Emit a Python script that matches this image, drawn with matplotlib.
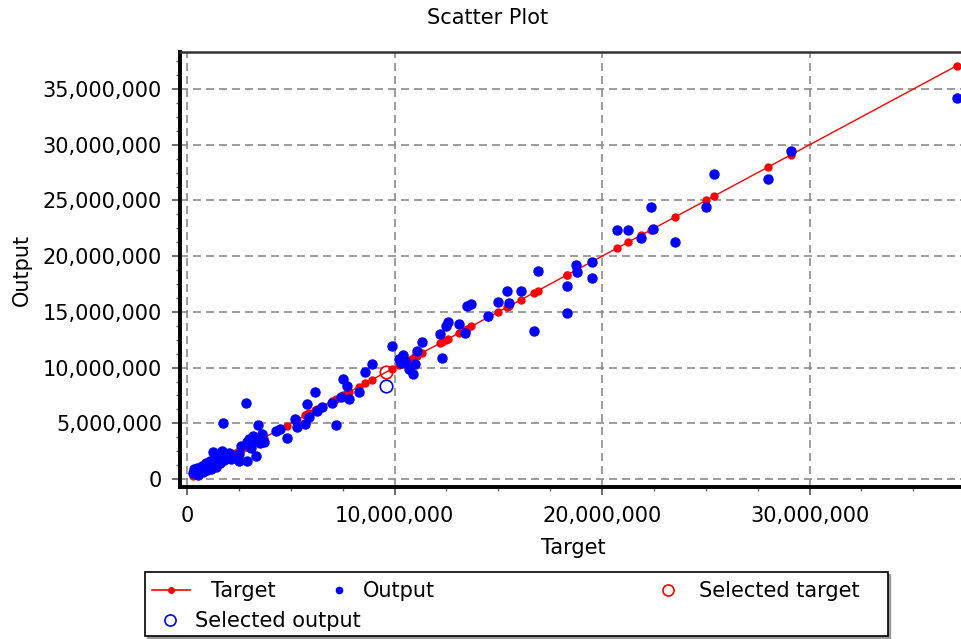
import numpy as np
import matplotlib
matplotlib.use('Agg')
import matplotlib.pyplot as plt
from matplotlib.lines import Line2D
from matplotlib.patches import Rectangle
from matplotlib.ticker import MultipleLocator, FuncFormatter

# values in millions
target = [0.3, 0.35, 0.4, 0.5, 0.55, 0.6, 0.7, 0.75, 0.8, 0.9, 0.95, 1.0, 1.1, 1.15,
          1.2, 1.25, 1.3, 1.4, 1.5, 1.6, 1.7, 1.73, 1.8, 2.0, 2.1, 2.3, 2.5, 2.5,
          2.6, 2.84, 2.9, 2.9, 3.0, 3.1, 3.2, 3.3, 3.3, 3.4, 3.5, 3.6, 3.7, 4.3,
          4.5, 4.8, 5.2, 5.3, 5.7, 5.8, 5.9, 6.15, 6.25, 6.5, 7.0, 7.2, 7.4, 7.5,
          7.7, 7.8, 8.3, 8.6, 8.9, 9.9, 10.2, 10.3, 10.4, 10.5, 10.7, 10.9, 11.0,
          11.06, 11.3, 12.2, 12.3, 12.5, 12.6, 13.1, 13.4, 13.5, 13.7, 14.5, 15.0,
          15.4, 15.5, 16.1, 16.7, 16.9, 18.3, 18.3, 18.75, 18.8, 19.5, 19.5, 20.7,
          21.25, 21.9, 22.35, 22.45, 23.5, 25.0, 25.4, 28.0, 29.1, 37.1]
output = [0.5, 0.9, 0.7, 1.0, 0.4, 0.8, 1.2, 0.6, 1.0, 1.4, 0.8, 1.1, 1.6, 0.9,
          1.3, 2.4, 1.5, 1.1, 1.8, 1.4, 2.5, 5.0, 1.7, 2.3, 1.8, 2.1, 2.2, 1.6,
          3.0, 6.8, 3.3, 1.6, 3.6, 2.8, 3.9, 2.1, 3.4, 4.85, 3.2, 4.0, 3.3, 4.3,
          4.5, 3.7, 5.4, 4.7, 4.9, 6.7, 5.6, 7.8, 6.1, 6.5, 6.8, 4.85, 7.4, 9.0,
          8.35, 7.2, 7.8, 9.6, 10.3, 11.9, 10.8, 10.4, 11.1, 10.6, 9.9, 9.4, 10.3,
          11.5, 12.3, 13.0, 10.9, 13.7, 14.1, 13.9, 13.1, 15.5, 15.7, 14.6, 15.9,
          16.9, 15.8, 16.9, 13.3, 18.7, 17.3, 14.9, 19.2, 18.6, 19.5, 18.0, 22.35,
          22.35, 21.6, 24.4, 22.4, 21.3, 24.4, 27.4, 26.9, 29.4, 34.2]
sel_target = 9.6
sel_output = 8.35

M = 1e6
target = np.array(target) * M
output = np.array(output) * M

plt.rcParams['font.family'] = 'DejaVu Sans'
plt.rcParams['font.size'] = 15

W, H = 961, 639
fig = plt.figure(figsize=(W / 100, H / 100), dpi=100)
ax = fig.add_axes([180 / W, (H - 487) / H, (1000 - 180) / W, (487 - 52) / H])

order = np.argsort(target)
ax.plot(target[order], target[order], color='red', lw=1.0, marker='o', ms=5,
        mec='red', mfc='red', zorder=3)
ax.plot(target, output, ls='none', marker='o', ms=6.5, color='blue', mec='blue', zorder=4)
ax.plot([sel_target * M], [sel_target * M], ls='none', marker='o', ms=9, mfc='none',
        mec='red', mew=1.2, zorder=5)
ax.plot([sel_target * M], [sel_output * M], ls='none', marker='o', ms=9, mfc='none',
        mec='blue', mew=1.2, zorder=5)

ax.set_xlim(-0.34 * M, 39.18 * M)
ax.set_ylim(-0.72 * M, 38.33 * M)

ax.xaxis.set_major_locator(MultipleLocator(10 * M))
ax.xaxis.set_minor_locator(MultipleLocator(2.5 * M))
ax.yaxis.set_major_locator(MultipleLocator(5 * M))
ax.yaxis.set_minor_locator(MultipleLocator(1.25 * M))
fmt = FuncFormatter(lambda v, p: '{:,.0f}'.format(v))
ax.xaxis.set_major_formatter(fmt)
ax.yaxis.set_major_formatter(fmt)

ax.tick_params(which='major', direction='out', length=6, width=1.1, color='#444', pad=7)
ax.tick_params(which='minor', direction='out', length=3, width=1.0, color='#666')
ax.tick_params(axis='x', which='major', pad=8)

ax.grid(True, which='major', color='#8c8c8c', lw=1.2, ls=(0, (4.8, 3)))
ax.set_axisbelow(True)

for s in ['left', 'bottom']:
    ax.spines[s].set_linewidth(2.8)
    ax.spines[s].set_color('black')
for s in ['top', 'right']:
    ax.spines[s].set_linewidth(1.8)
    ax.spines[s].set_color('#333333')

fig.text(488 / W, 1 - 18 / H, 'Scatter Plot', ha='center', va='center')
fig.text(573 / W, 1 - 548 / H, 'Target', ha='center', va='center')
fig.text(22 / W, 1 - 270 / H, 'Output', ha='center', va='center', rotation=90)

# legend box with a thin shadow
fig.add_artist(Rectangle(((145 + 2) / W, 1 - (636 + 2) / H), (888 - 145) / W, (636 - 572) / H,
                         transform=fig.transFigure, facecolor='#999999', edgecolor='#999999', lw=1))
fig.add_artist(Rectangle((145 / W, 1 - 636 / H), (888 - 145) / W, (636 - 572) / H,
                         transform=fig.transFigure, facecolor='white', edgecolor='black', lw=1.2))

entries = [
    (Line2D([], [], color='red', lw=1.2, marker='o', ms=4), 'Target', 152, 591, 1.05),
    (Line2D([], [], ls='none', color='blue', marker='o', ms=4.5), 'Output', 320, 591, 0.25),
    (Line2D([], [], ls='none', marker='o', ms=8, mfc='none', mec='red', mew=1.2),
     'Selected target', 649, 591, 0.6),
    (Line2D([], [], ls='none', marker='o', ms=8, mfc='none', mec='blue', mew=1.2),
     'Selected output', 151, 621, 0.3),
]
for h, lab, x, y, tp in entries:
    fig.legend(handles=[h], labels=[lab], loc='center left', bbox_to_anchor=(x / W, 1 - y / H),
               frameon=False, borderpad=0, borderaxespad=0, handlelength=1.8,
               handletextpad=tp, fontsize=15)

fig.savefig('out.png', dpi=100)
